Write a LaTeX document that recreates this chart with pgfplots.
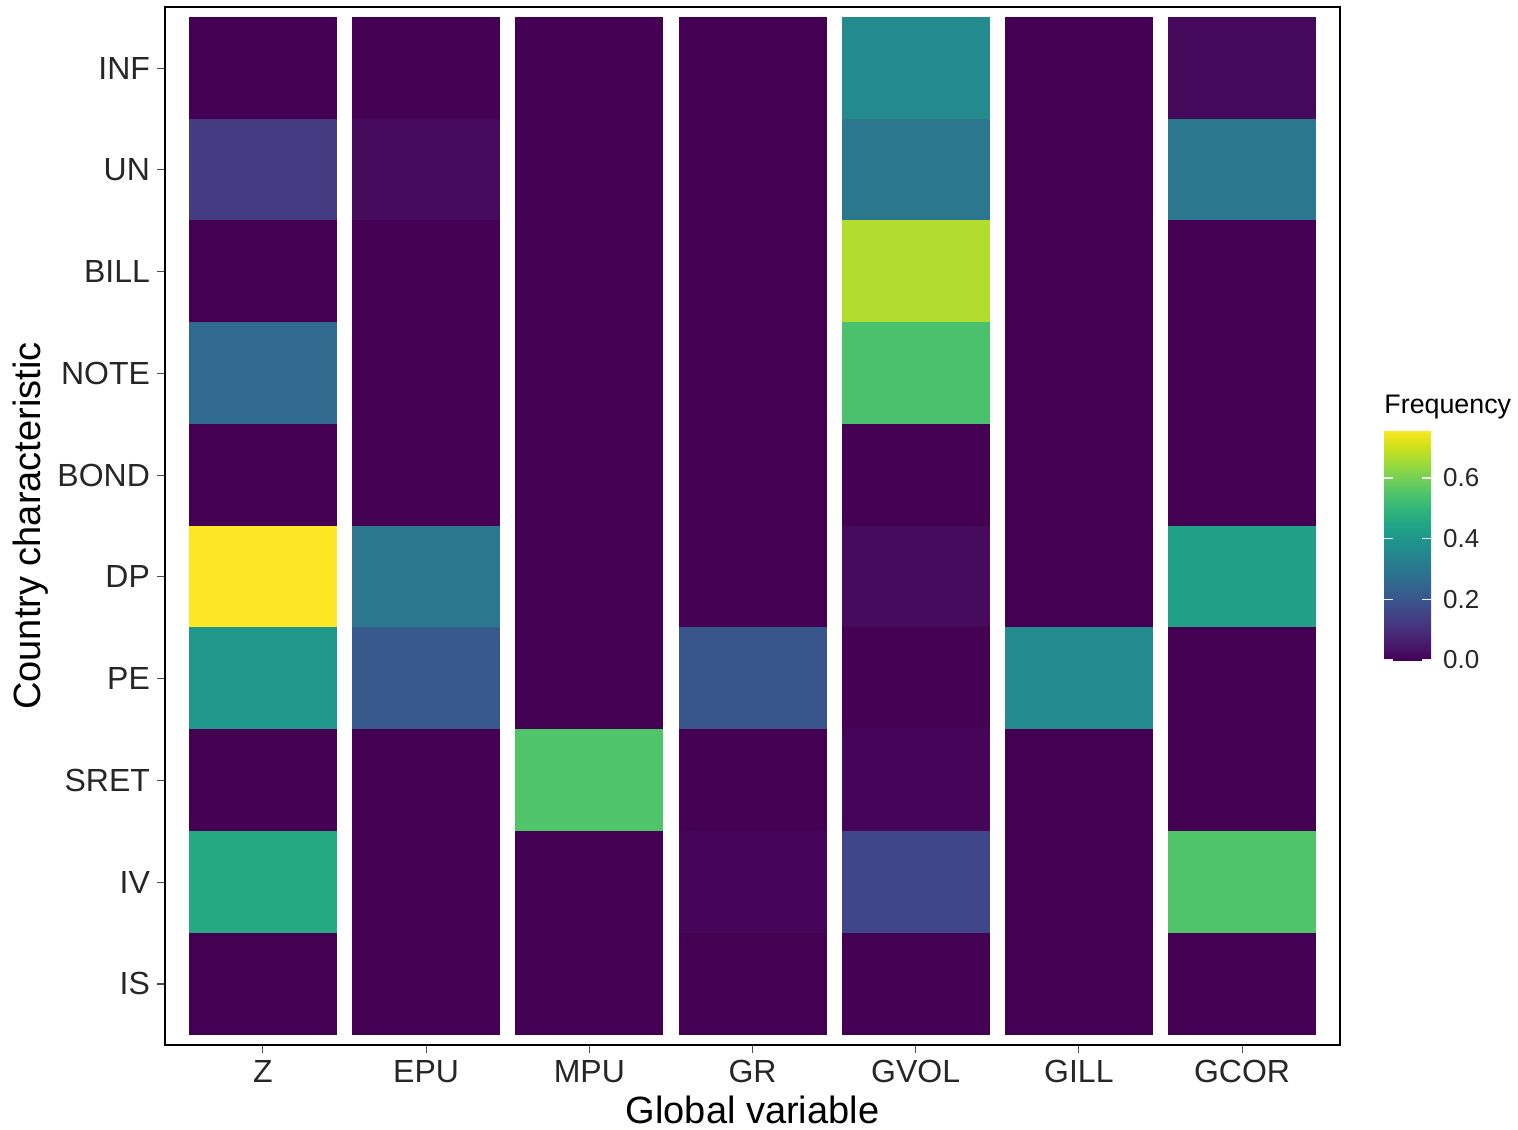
\documentclass[border=0pt]{standalone}
\usepackage{pgfplots}
\pgfplotsset{compat=1.18}
\usepackage{fontspec}
\setmainfont{Liberation Sans}
\pgfplotsset{tile/.style={surf, shader=flat corner, mesh/cols=2, mesh/ordering=x varies, point meta=explicit}}
\begin{document}
\begin{tikzpicture}
\path[use as bounding box] (-82.5pt,-42pt) rectangle (676.5pt,522.5pt);
\begin{axis}[
  at={(0pt,0pt)}, anchor=south west,
  scale only axis, width=587.5pt, height=519pt,
  xmin=-0.6, xmax=6.6, ymin=-0.6, ymax=9.6,
  y dir=reverse,
  enlargelimits=false,
  axis line style={line width=1.1pt, black},
  xtick={0,...,6},
  xticklabels={Z,EPU,MPU,GR,GVOL,GILL,GCOR},
  ytick={0,...,9},
  yticklabels={INF,UN,BILL,NOTE,BOND,DP,PE,SRET,IV,IS},
  xtick pos=bottom, ytick pos=left,
  tick align=outside, major tick length=4pt,
  tick style={color=black!70, line width=0.55pt},
  ticklabel style={font=\fontsize{16}{19}\selectfont, text=black!85},
  xlabel={Global variable},
  ylabel={Country characteristic},
  every axis x label/.style={at={(axis description cs:0.5,-0.0626)}, anchor=center,
    font=\fontsize{19}{22}\selectfont},
  every axis y label/.style={at={(axis description cs:-0.114,0.5)}, anchor=center, rotate=90,
    font=\fontsize{19}{22}\selectfont},
  colormap/viridis,
  point meta min=0, point meta max=0.758,
  colorbar,
  colorbar/width=23.5pt,
  colorbar style={
    at={(parent axis.east)}, anchor=west, xshift=13.5pt, yshift=-9.5pt,
    scale only axis, height=115pt,
    axis line style={draw=none},
    ytick={0,0.2,0.4,0.6},
    ytick pos=both, yticklabel pos=right,
    tick align=inside, major tick length=4.7pt,
    ytick style={draw=white!90!gray, line width=0.6pt},
    yticklabel style={font=\fontsize{13}{15}\selectfont, text=black!85, xshift=2.5pt,
      /pgf/number format/.cd, fixed, fixed zerofill, precision=1, assume math mode=true},
    title={Frequency},
    title style={at={(0,1)}, anchor=south west, inner sep=0pt, yshift=-0.5pt,
      font=\fontsize{13.4}{16}\selectfont},
  },
]
% tile corners: the value of a tile sits on its first corner (row r -> y from r-0.5 to r+0.5)
% rows from top: 0 INF, 1 UN, 2 BILL, 3 NOTE, 4 BOND, 5 DP, 6 PE, 7 SRET, 8 IV, 9 IS
% Z
\addplot[tile] table[meta=c] {
x y c
-0.45 -0.5 0
0.45 -0.5 0
-0.45 0.5 0.13
0.45 0.5 0.13
-0.45 1.5 0
0.45 1.5 0
-0.45 2.5 0.26
0.45 2.5 0.26
-0.45 3.5 0
0.45 3.5 0
-0.45 4.5 0.758
0.45 4.5 0.758
-0.45 5.5 0.40
0.45 5.5 0.40
-0.45 6.5 0
0.45 6.5 0
-0.45 7.5 0.46
0.45 7.5 0.46
-0.45 8.5 0
0.45 8.5 0
-0.45 9.5 0
0.45 9.5 0
};
% EPU
\addplot[tile] table[meta=c] {
x y c
0.55 -0.5 0
1.45 -0.5 0
0.55 0.5 0.02
1.45 0.5 0.02
0.55 1.5 0
1.45 1.5 0
0.55 2.5 0
1.45 2.5 0
0.55 3.5 0
1.45 3.5 0
0.55 4.5 0.30
1.45 4.5 0.30
0.55 5.5 0.21
1.45 5.5 0.21
0.55 6.5 0
1.45 6.5 0
0.55 7.5 0
1.45 7.5 0
0.55 8.5 0
1.45 8.5 0
0.55 9.5 0
1.45 9.5 0
};
% MPU
\addplot[tile] table[meta=c] {
x y c
1.55 -0.5 0
2.45 -0.5 0
1.55 0.5 0
2.45 0.5 0
1.55 1.5 0
2.45 1.5 0
1.55 2.5 0
2.45 2.5 0
1.55 3.5 0
2.45 3.5 0
1.55 4.5 0
2.45 4.5 0
1.55 5.5 0
2.45 5.5 0
1.55 6.5 0.55
2.45 6.5 0.55
1.55 7.5 0
2.45 7.5 0
1.55 8.5 0
2.45 8.5 0
1.55 9.5 0
2.45 9.5 0
};
% GR
\addplot[tile] table[meta=c] {
x y c
2.55 -0.5 0
3.45 -0.5 0
2.55 0.5 0
3.45 0.5 0
2.55 1.5 0
3.45 1.5 0
2.55 2.5 0
3.45 2.5 0
2.55 3.5 0
3.45 3.5 0
2.55 4.5 0
3.45 4.5 0
2.55 5.5 0.20
3.45 5.5 0.20
2.55 6.5 0
3.45 6.5 0
2.55 7.5 0.008
3.45 7.5 0.008
2.55 8.5 0
3.45 8.5 0
2.55 9.5 0
3.45 9.5 0
};
% GVOL
\addplot[tile] table[meta=c] {
x y c
3.55 -0.5 0.36
4.45 -0.5 0.36
3.55 0.5 0.30
4.45 0.5 0.30
3.55 1.5 0.67
4.45 1.5 0.67
3.55 2.5 0.54
4.45 2.5 0.54
3.55 3.5 0
4.45 3.5 0
3.55 4.5 0.02
4.45 4.5 0.02
3.55 5.5 0
4.45 5.5 0
3.55 6.5 0.01
4.45 6.5 0.01
3.55 7.5 0.16
4.45 7.5 0.16
3.55 8.5 0
4.45 8.5 0
3.55 9.5 0
4.45 9.5 0
};
% GILL
\addplot[tile] table[meta=c] {
x y c
4.55 -0.5 0
5.45 -0.5 0
4.55 0.5 0
5.45 0.5 0
4.55 1.5 0
5.45 1.5 0
4.55 2.5 0
5.45 2.5 0
4.55 3.5 0
5.45 3.5 0
4.55 4.5 0
5.45 4.5 0
4.55 5.5 0.36
5.45 5.5 0.36
4.55 6.5 0
5.45 6.5 0
4.55 7.5 0
5.45 7.5 0
4.55 8.5 0
5.45 8.5 0
4.55 9.5 0
5.45 9.5 0
};
% GCOR
\addplot[tile] table[meta=c] {
x y c
5.55 -0.5 0.015
6.45 -0.5 0.015
5.55 0.5 0.30
6.45 0.5 0.30
5.55 1.5 0
6.45 1.5 0
5.55 2.5 0
6.45 2.5 0
5.55 3.5 0
6.45 3.5 0
5.55 4.5 0.43
6.45 4.5 0.43
5.55 5.5 0
6.45 5.5 0
5.55 6.5 0
6.45 6.5 0
5.55 7.5 0.55
6.45 7.5 0.55
5.55 8.5 0
6.45 8.5 0
5.55 9.5 0
6.45 9.5 0
};
\end{axis}
\end{tikzpicture}
\end{document}
